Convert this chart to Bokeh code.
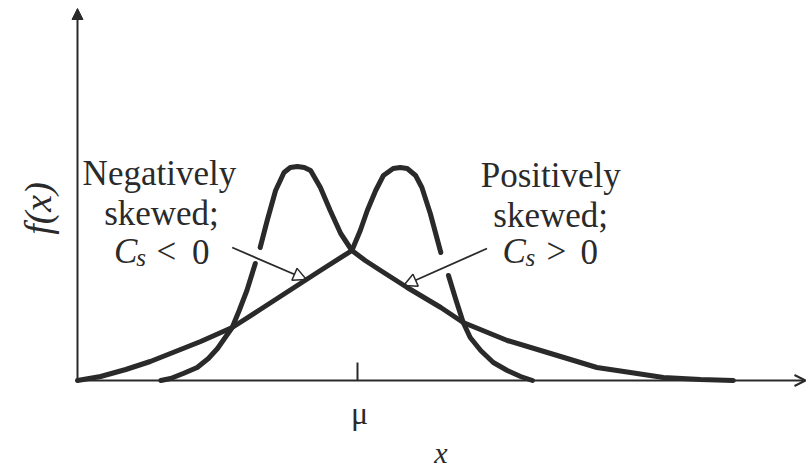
import math
from bokeh.plotting import figure
from bokeh.models import Range1d, Arrow, NormalHead, OpenHead
from bokeh.core.properties import value
from bokeh.embed import file_html
from bokeh.resources import INLINE

nan = float("nan")

# Negatively skewed density: long left tail, peak right of the mean
neg_x = [0.00, 0.33, 0.69, 1.04, 1.40, 1.76, 2.21, 2.61, 3.04, 3.47, 3.92,
         4.04, 4.14, 4.26, 4.37, 4.51, 4.61, 4.71, 4.83, 4.92, 5.04, 5.19,
         nan,
         5.30, 5.40, 5.51, 5.61, 5.76, 5.94, 6.14, 6.33, 6.50]
neg_f = [0.00, 0.04, 0.11, 0.19, 0.29, 0.39, 0.53, 0.71, 0.905, 1.10, 1.30,
         1.50, 1.70, 1.90, 2.05, 2.12, 2.13, 2.12, 2.05, 1.93, 1.67, 1.28,
         nan,
         1.05, 0.82, 0.58, 0.43, 0.30, 0.18, 0.10, 0.04, 0.00]

# Positively skewed density: peak left of the mean, long right tail
pos_x = [1.19, 1.33, 1.51, 1.71, 1.87, 2.00, 2.11, 2.21, 2.31, 2.42, 2.54,
         nan,
         2.61, 2.71, 2.83, 2.95, 3.04, 3.14, 3.24, 3.33, 3.47, 3.61, 3.76, 3.92,
         4.11, 4.33, 4.71, 5.19, 5.51, 6.14, 6.76, 7.42, 7.90, 8.37, 8.90, 9.37]
pos_f = [0.00, 0.02, 0.07, 0.13, 0.22, 0.32, 0.43, 0.53, 0.70, 0.90, 1.17,
         nan,
         1.33, 1.60, 1.90, 2.08, 2.13, 2.14, 2.13, 2.10, 1.93, 1.70, 1.47, 1.30,
         1.20, 1.10, 0.93, 0.73, 0.58, 0.40, 0.27, 0.13, 0.08, 0.03, 0.01, 0.00]

mu = 4.0
x_axis_end = 10.4
y_axis_end = 3.72

ink = "#2a2a2a"
serif = value("Liberation Serif")

p = figure(width=808, height=473, output_backend="svg", toolbar_location=None,
           x_range=Range1d(-1.1, 10.443), y_range=Range1d(-0.93, 3.80),
           x_axis_location=None, y_axis_location=None,
           min_border=0, outline_line_color=None)
p.grid.visible = False
p.background_fill_color = "white"
p.border_fill_color = "white"

# coordinate axes with arrow heads
p.add_layout(Arrow(end=NormalHead(size=11, fill_color=ink, line_color=ink, line_width=1),
                   x_start=0, y_start=0, x_end=0, y_end=y_axis_end,
                   line_color=ink, line_width=2))
p.add_layout(Arrow(end=OpenHead(size=11, line_color=ink, line_width=2),
                   x_start=0, y_start=0, x_end=x_axis_end, y_end=0,
                   line_color=ink, line_width=2))

# mean tick
p.segment(x0=[mu], y0=[0], x1=[mu], y1=[0.18], line_color=ink, line_width=2)

# the two density curves
p.line(neg_x, neg_f, line_color=ink, line_width=5, line_join="round", line_cap="round")
p.line(pos_x, pos_f, line_color=ink, line_width=5, line_join="round", line_cap="round")

# pointer arrows from the labels to the curves
p.add_layout(Arrow(end=NormalHead(size=13, fill_alpha=0, line_color=ink, line_width=1.5),
                   x_start=2.21, y_start=1.33, x_end=3.27, y_end=1.01,
                   line_color=ink, line_width=1.8))
p.add_layout(Arrow(end=NormalHead(size=13, fill_alpha=0, line_color=ink, line_width=1.5),
                   x_start=5.85, y_start=1.32, x_end=4.66, y_end=0.95,
                   line_color=ink, line_width=1.8))

fs = "35px"
# left label
p.text(x=[1.17, 1.20], y=[2.07, 1.67], text=["Negatively", "skewed;"],
       text_font=serif, text_font_size=fs, text_color=ink,
       text_align="center", text_baseline="alphabetic")
# right label
p.text(x=[6.76, 6.76], y=[2.05, 1.65], text=["Positively", "skewed;"],
       text_font=serif, text_font_size=fs, text_color=ink,
       text_align="center", text_baseline="alphabetic")

# C_s with subscript, then the relation
p.text(x=[0.52, 6.07], y=[1.29, 1.29], text=["C", "C"],
       text_font=serif, text_font_style="italic", text_font_size=fs, text_color=ink,
       text_align="left", text_baseline="alphabetic")
p.text(x=[0.84, 6.40], y=[1.23, 1.23], text=["s", "s"],
       text_font=serif, text_font_style="italic", text_font_size="25px", text_color=ink,
       text_align="left", text_baseline="alphabetic")
p.text(x=[1.27, 6.84], y=[1.29, 1.29], text=["<", ">"],
       text_font=serif, text_font_size=fs, text_color=ink,
       text_align="center", text_baseline="alphabetic")
p.text(x=[1.76, 7.31], y=[1.29, 1.29], text=["0", "0"],
       text_font=serif, text_font_size=fs, text_color=ink,
       text_align="center", text_baseline="alphabetic")

# axis annotations
p.text(x=[4.03], y=[-0.32], text=["μ"], text_font=serif, text_font_size="32px",
       text_color=ink, text_align="center", text_baseline="alphabetic")
p.text(x=[5.19], y=[-0.72], text=["x"], text_font=serif, text_font_style="italic",
       text_font_size="30px", text_color=ink, text_align="center", text_baseline="alphabetic")
p.text(x=[-0.57], y=[1.72], text=["f(x)"], text_font=serif, text_font_style="italic",
       text_font_size="38px", text_color=ink, angle=math.pi / 2,
       text_align="center", text_baseline="middle")

open("out.html", "w").write(file_html(p, INLINE))
